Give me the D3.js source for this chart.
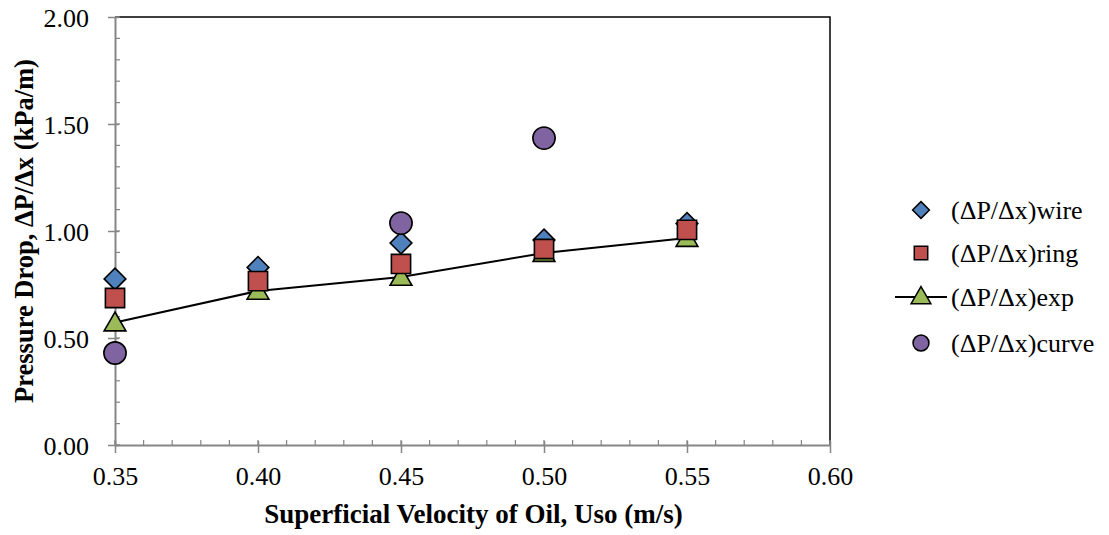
<!DOCTYPE html>
<html><head><meta charset="utf-8">
<script src="https://cdn.jsdelivr.net/npm/d3@7"></script>
<style>body{margin:0;background:#fff}svg{display:block}text{font-family:'Liberation Serif','Times New Roman',serif}</style>
</head><body>
<script>
const xValues = [0.35, 0.40, 0.45, 0.50, 0.55];
const wire = [0.776, 0.83, 0.944, 0.958, 1.035];
const ring = [0.687, 0.766, 0.846, 0.916, 1.005];
const expv = [0.572, 0.72, 0.785, 0.897, 0.967];
const curve = [0.43, null, 1.037, 1.434, null];
const xTicks = [0.35, 0.40, 0.45, 0.50, 0.55, 0.60];
const yTicks = [0.00, 0.50, 1.00, 1.50, 2.00];
const seriesNames = ["(ΔP/Δx)wire", "(ΔP/Δx)ring", "(ΔP/Δx)exp", "(ΔP/Δx)curve"];
const xTitle = "Superficial Velocity of Oil, Uso (m/s)";
const yTitle = "Pressure Drop, ΔP/Δx (kPa/m)";

const W = 1109, H = 535;
const L = 115, R = 830, T = 17, B = 445;
const font = "'Liberation Serif','Times New Roman',serif";
const FS = 26, TFS = 27, YTFS = 26.5;
const svg = d3.select("body").append("svg").attr("width", W).attr("height", H);
const x = d3.scaleLinear().domain([0.35, 0.60]).range([L, R]);
const y = d3.scaleLinear().domain([0, 2]).range([B, T]);

// plot border top/right
svg.append("path").attr("d", `M${L},${T}H${R}V${B}`).attr("fill", "none")
  .attr("stroke", "#000").attr("stroke-width", 1.5);

const gray = "#868686";
// minor ticks
const yMinor = d3.range(0, 2.0001, 0.1);
svg.append("g").selectAll("line").data(yMinor).join("line")
  .attr("x1", L).attr("x2", L + 5).attr("y1", d => y(d)).attr("y2", d => y(d))
  .attr("stroke", gray).attr("stroke-width", 1.2);
const xMinor = d3.range(0.35, 0.6001, 0.01);
svg.append("g").selectAll("line").data(xMinor).join("line")
  .attr("y1", B).attr("y2", B - 5).attr("x1", d => x(d)).attr("x2", d => x(d))
  .attr("stroke", gray).attr("stroke-width", 1.2);

// axes
const yAxis = svg.append("g").attr("transform", `translate(${L},0)`)
  .call(d3.axisLeft(y).tickValues(yTicks).tickFormat(d3.format(".2f")).tickSizeInner(7).tickSizeOuter(0).tickPadding(19));
yAxis.selectAll(".tick line").attr("x2", -7).attr("x1", 4);
const xAxis = svg.append("g").attr("transform", `translate(0,${B})`)
  .call(d3.axisBottom(x).tickValues(xTicks).tickFormat(d3.format(".2f")).tickSizeInner(8).tickSizeOuter(0).tickPadding(14));
xAxis.selectAll(".tick line").attr("y1", -4).attr("y2", 8);
[yAxis, xAxis].forEach(a => {
  a.attr("font-family", null).attr("font-size", null);
  a.select(".domain").attr("stroke", gray).attr("stroke-width", 2);
  a.selectAll(".tick line").attr("stroke", gray).attr("stroke-width", 1.5);
  a.selectAll("text").style("font-family", font).style("font-size", FS + "px").attr("fill", "#000");
});
yAxis.selectAll("text").attr("dy", "0.35em");

// titles
svg.append("text").attr("x", (L + R) / 2 + 1).attr("y", 523).attr("text-anchor", "middle")
  .style("font-family", font).style("font-size", TFS + "px").attr("font-weight", "bold").text(xTitle);
svg.append("text").attr("transform", "translate(33,231) rotate(-90)").attr("text-anchor", "middle")
  .style("font-family", font).style("font-size", YTFS + "px").attr("font-weight", "bold").text(yTitle);

const colors = ["#4F81BD", "#C0504D", "#9BBB59", "#8064A2"];
const shapes = [d3.symbolDiamond2, d3.symbolSquare2, d3.symbolTriangle2, d3.symbolCircle];
const sizes = [300, 470, 340, 390];
const legSizes = [180, 230, 280, 200];

// exp line
const pts = xValues.map((v, i) => [v, expv[i]]);
svg.append("path").datum(pts).attr("fill", "none").attr("stroke", "#000").attr("stroke-width", 2)
  .attr("d", d3.line().x(d => x(d[0])).y(d => y(d[1])));

function drawSeries(vals, k) {
  const data = xValues.map((v, i) => [v, vals[i]]).filter(d => d[1] != null);
  svg.append("g").selectAll("path").data(data).join("path")
    .attr("transform", d => `translate(${x(d[0])},${y(d[1])})` + (k === 2 ? " translate(0,2)" : ""))
    .attr("d", d3.symbol().type(shapes[k]).size(sizes[k]))
    .attr("fill", colors[k]).attr("stroke", "#000").attr("stroke-width", 1.6);
}
drawSeries(expv, 2);
drawSeries(wire, 0);
drawSeries(ring, 1);
drawSeries(curve, 3);

// legend
const legY = [210, 253, 297, 343];
const lg = svg.append("g");
seriesNames.forEach((n, k) => {
  if (k === 2) lg.append("line").attr("x1", 895).attr("x2", 947).attr("y1", legY[k]).attr("y2", legY[k])
    .attr("stroke", "#000").attr("stroke-width", 2);
  lg.append("path").attr("transform", `translate(921,${legY[k] + (k === 2 ? 1 : 0)})`)
    .attr("d", d3.symbol().type(shapes[k]).size(legSizes[k]))
    .attr("fill", colors[k]).attr("stroke", "#000").attr("stroke-width", 1.5);
  lg.append("text").attr("x", 951).attr("y", legY[k]).attr("dy", "0.35em")
    .style("font-family", font).style("font-size", FS + "px").text(n);
});
</script>
</body></html>
